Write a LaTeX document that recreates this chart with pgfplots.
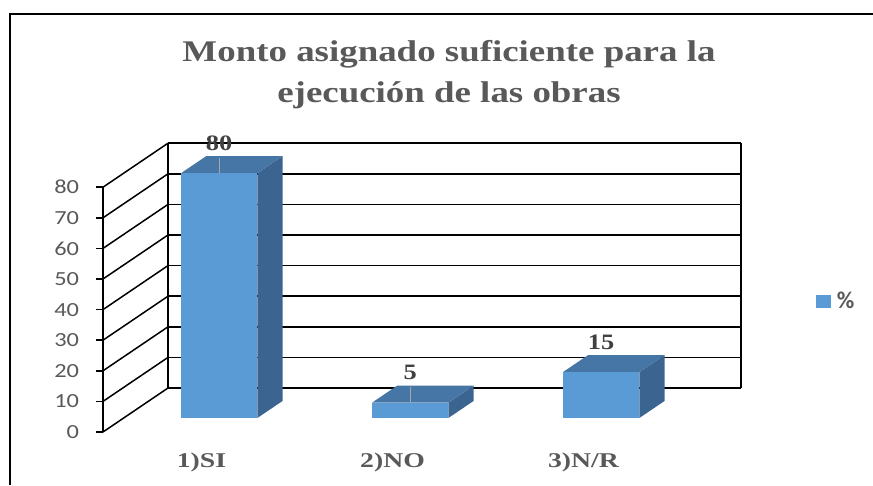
\documentclass[border=0pt]{standalone}
\usepackage{fontspec}
\setmainfont{Liberation Serif}
\newfontfamily\calfont{Carlito}
\usepackage{pgfplots}
\pgfplotsset{compat=1.18}
\definecolor{txtGray}{HTML}{595959}
\definecolor{lblGray}{HTML}{404040}
\definecolor{barFront}{HTML}{5B9BD5}
\definecolor{barTop}{HTML}{4676A6}
\definecolor{barSide}{HTML}{3B6590}

% one 3d column: left x, right x, value
\newcommand{\drawbar}[3]{%
  \addplot3[draw=none, fill=barSide, forget plot] coordinates {(#2,0.318,0) (#2,0.705,0) (#2,0.705,#3) (#2,0.318,#3)};
  \addplot3[draw=none, fill=barTop, forget plot] coordinates {(#1,0.318,#3) (#2,0.318,#3) (#2,0.705,#3) (#1,0.705,#3)};
  \addplot3[draw=none, fill=barFront, forget plot] coordinates {(#1,0.318,0) (#2,0.318,0) (#2,0.318,#3) (#1,0.318,#3)};
}

\begin{document}
\begin{tikzpicture}
\useasboundingbox (0,0) rectangle (873pt,485pt);
\begin{axis}[
  x={(191pt,0pt)}, y={(65pt,44pt)}, z={(0pt,3.06pt)},
  xmin=0, xmax=3, ymin=0, ymax=1, zmin=0, zmax=80,
  hide axis, clip=false,
  anchor=origin, at={(103pt,53pt)},
  every axis plot/.append style={line width=1.5pt, mark=none},
  legend style={at={(axis cs:3.715,0,42.8)}, anchor=west, draw=none, fill=none,
    column sep=4pt,
    font=\calfont\bfseries\fontsize{24}{28}\selectfont, text=txtGray},
  legend image code/.code={\fill[barFront] (0pt,-6.5pt) rectangle (15pt,6.5pt);},
]
  % walls and axis
  \pgfplotsinvokeforeach{0,10,...,80}{
    \addplot3[black, forget plot] coordinates {(0,1,#1) (3,1,#1)};
    \addplot3[black, forget plot] coordinates {(0,0,#1) (0,1,#1)};
    \addplot3[black, forget plot] coordinates {(-0.037,0,#1) (0,0,#1)};
  }
  \addplot3[black, forget plot] coordinates {(0,0,0) (0,0,80)};
  \addplot3[black, forget plot] coordinates {(0,1,0) (0,1,80)};
  \addplot3[black, forget plot] coordinates {(3,1,0) (3,1,80)};

  % tick labels
  \addplot3[draw=none, forget plot, point meta=explicit symbolic,
    nodes near coords, nodes near coords style={anchor=east, xshift=-19pt, xscale=1.22,
      font=\calfont\fontsize{20}{24}\selectfont, text=txtGray}]
    coordinates {(0,0,0)[0] (0,0,10)[10] (0,0,20)[20] (0,0,30)[30] (0,0,40)[40]
                 (0,0,50)[50] (0,0,60)[60] (0,0,70)[70] (0,0,80)[80]};

  % columns
  \drawbar{0.3}{0.7}{80}
  \drawbar{1.3}{1.7}{5}
  \drawbar{2.3}{2.7}{15}
  \addlegendimage{fill=barFront, draw=none}
  \addlegendentry{\%}

  % leader lines
  \addplot3[gray!70, line width=1.2pt, forget plot] coordinates {(0.5,0.318,80) (0.5,0.318,85)};
  \addplot3[gray!70, line width=1.2pt, forget plot] coordinates {(1.5,0.318,5) (1.5,0.318,10)};

  % value labels
  \addplot3[draw=none, forget plot, point meta=explicit symbolic,
    nodes near coords, nodes near coords style={anchor=center, yshift=30pt, xscale=1.2,
      font=\bfseries\fontsize{22}{26}\selectfont, text=lblGray}]
    coordinates {(0.5,0.318,80)[80] (1.5,0.318,5)[5] (2.5,0.318,15)[15]};

  % category labels
  \addplot3[draw=none, forget plot, point meta=explicit symbolic,
    nodes near coords, nodes near coords style={anchor=center, yshift=-30pt, xshift=3pt, xscale=1.32,
      font=\bfseries\fontsize{21}{25}\selectfont, text=txtGray}]
    coordinates {(0.5,0,0)[{1)SI}] (1.5,0,0)[{2)NO}] (2.5,0,0)[{3)N/R}]};
\end{axis}
\node[anchor=base, xscale=1.23, text=txtGray, font=\bfseries\fontsize{30}{36}\selectfont]
  at (449pt,423pt) {Monto asignado suficiente para la};
\node[anchor=base, xscale=1.23, text=txtGray, font=\bfseries\fontsize{30}{36}\selectfont]
  at (449pt,382pt) {ejecución de las obras};
\draw[black, line width=2pt] (10pt,0pt) -- (10pt,471pt) -- (873pt,471pt);
\end{tikzpicture}
\end{document}
